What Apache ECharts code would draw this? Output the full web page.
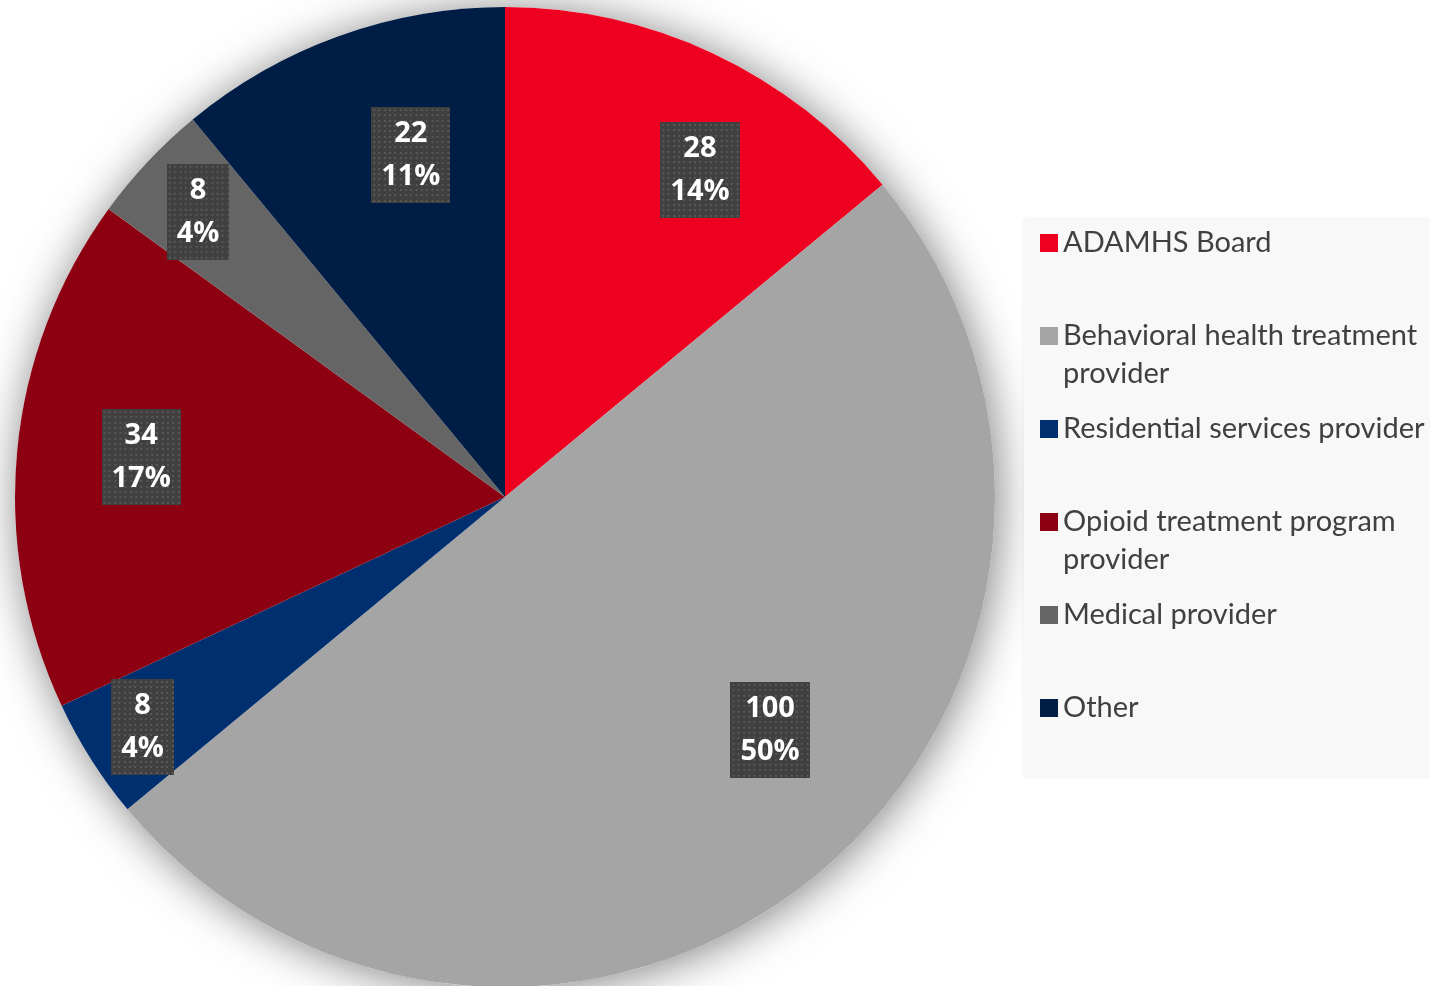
<!DOCTYPE html>
<html>
<head>
<meta charset="utf-8">
<script src="https://cdn.jsdelivr.net/npm/echarts@6/dist/echarts.min.js"></script>
<style>
  html, body { margin: 0; padding: 0; background: #ffffff; }
  #chart { width: 1430px; height: 986px; }
</style>
</head>
<body>
<div id="chart"></div>
<script>
// Respondent types and counts
const categories = [
  'ADAMHS Board',
  'Behavioral health treatment provider',
  'Residential services provider',
  'Opioid treatment program provider',
  'Medical provider',
  'Other'
];
const counts = [28, 100, 8, 34, 8, 22];

// Legend text, wrapped the way it is shown
const legendLines = {
  'ADAMHS Board': ['ADAMHS Board'],
  'Behavioral health treatment provider': ['Behavioral health treatment', 'provider'],
  'Residential services provider': ['Residential services provider'],
  'Opioid treatment program provider': ['Opioid treatment program', 'provider'],
  'Medical provider': ['Medical provider'],
  'Other': ['Other']
};

const sliceColors = ['#ee0020', '#a5a5a5', '#002f6f', '#8c0011', '#656565', '#001e45'];

// Pie geometry (pixels)
const cx = 505, cy = 497, R = 490;

// Label placement: fraction of radius and small angular nudges (degrees)
const labelRadius = [0.777, 0.72, 0.876, 0.747, 0.855, 0.724];
const labelNudge = [5.6, -9.1, 0, 0.9, -0.3, 4.4];

const total = counts.reduce((a, b) => a + b, 0);

// Dotted dark fill for the value boxes
const LABEL_FONT_FAMILY = 'Open Sans';
const LABEL_FONT_SIZE = 29;
const LABEL_FONT = 'bold ' + LABEL_FONT_SIZE + 'px "Open Sans"';
function dottedTile(w, h) {
  const c = document.createElement('canvas');
  c.width = w; c.height = h;
  const g = c.getContext('2d');
  g.fillStyle = '#404040';
  g.fillRect(0, 0, w, h);
  g.fillStyle = '#585858';
  const step = 16 / 3;
  for (let y = 2; y < h; y += step) {
    for (let x = 2; x < w; x += step) {
      g.fillRect(Math.round(x), Math.round(y), 2, 2);
    }
  }
  return c;
}
const measurer = document.createElement('canvas').getContext('2d');
measurer.font = LABEL_FONT;

const pieData = categories.map((name, i) => {
  const pct = Math.round(counts[i] / total * 100) + '%';
  const w = Math.ceil(Math.max(measurer.measureText(String(counts[i])).width,
                               measurer.measureText(pct).width)) + 20;
  return {
    name: name,
    value: counts[i],
    itemStyle: { color: sliceColors[i] },
    label: { backgroundColor: { image: dottedTile(w, 96) } }
  };
});

// Mid-angles of each slice, clockwise from 12 o'clock
const midAngles = [];
{
  let acc = 0;
  counts.forEach(v => {
    const span = v / total * 360;
    midAngles.push(acc + span / 2);
    acc += span;
  });
}

const chart = echarts.init(document.getElementById('chart'), null, { renderer: 'canvas' });

chart.setOption({
  backgroundColor: '#ffffff',
  animation: false,
  graphic: [{
    type: 'rect',
    z: 3,
    silent: true,
    shape: { x: 1024, y: 219, width: 420, height: 558 },
    style: { fill: '#f8f8f8', shadowBlur: 4, shadowColor: 'rgba(0,0,0,0.08)' }
  }],
  legend: {
    orient: 'vertical',
    left: 1040,
    top: 186,
    padding: 0,
    itemGap: -21,
    itemWidth: 18,
    itemHeight: 18,
    icon: 'rect',
    z: 4,
    data: categories,
    formatter: function (name) {
      const lines = legendLines[name];
      return '\n' + lines.join('\n') + (lines.length === 1 ? '\n ' : '');
    },
    textStyle: {
      fontFamily: 'Lato',
      fontSize: 29,
      lineHeight: 38,
      color: '#404040'
    }
  },
  series: [
    {
      // soft drop shadow under the whole pie
      type: 'pie',
      silent: true,
      z: 1,
      center: [cx, cy],
      radius: [0, R],
      startAngle: 90,
      label: { show: false },
      labelLine: { show: false },
      emphasis: { disabled: true },
      data: [{ name: '', value: total, itemStyle: { color: '#ffffff', shadowBlur: 45, shadowColor: 'rgba(0,0,0,0.5)', shadowOffsetX: 3, shadowOffsetY: 3 } }]
    },
    {
      type: 'pie',
      z: 2,
      center: [cx, cy],
      radius: [0, R],
      startAngle: 90,
      clockwise: true,
      percentPrecision: 0,
      avoidLabelOverlap: false,
      itemStyle: { borderWidth: 0 },
      label: {
        show: true,
        position: 'inside',
        formatter: '{c}\n{d}%',
        color: '#ffffff',
        fontFamily: LABEL_FONT_FAMILY,
        fontWeight: 'bold',
        fontSize: LABEL_FONT_SIZE,
        lineHeight: 43,
        padding: [5, 10],
        shadowColor: 'rgba(0,0,0,0.55)',
        shadowBlur: 7,
        shadowOffsetX: 4,
        shadowOffsetY: 4
      },
      labelLine: { show: false },
      labelLayout: function (params) {
        const i = params.dataIndex;
        const a = (midAngles[i] + labelNudge[i]) * Math.PI / 180;
        const r = R * labelRadius[i];
        return {
          x: cx + r * Math.sin(a),
          y: cy - r * Math.cos(a),
          align: 'center',
          verticalAlign: 'middle'
        };
      },
      data: pieData
    }
  ]
});
</script>
</body>
</html>
